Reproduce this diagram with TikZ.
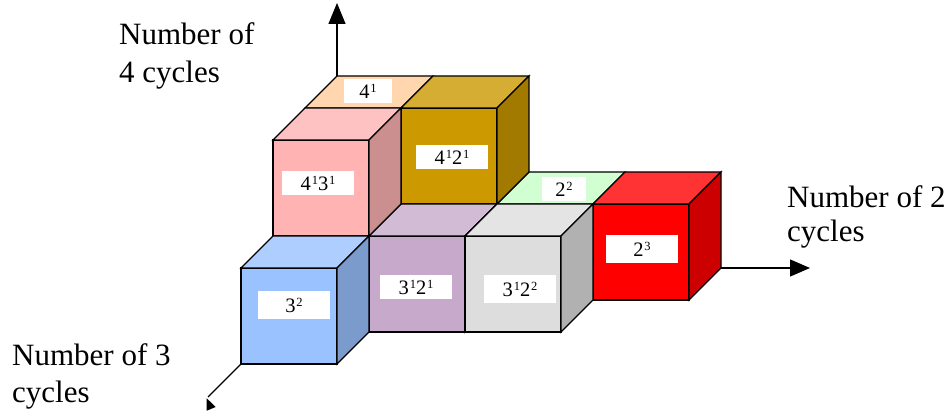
\documentclass[tikz,border=0pt]{standalone}
\usepackage{fontspec}
\setmainfont{Liberation Serif}
\usetikzlibrary{arrows.meta}
\definecolor{peachc}{RGB}{255,204,153}
\definecolor{pinkc}{RGB}{255,179,179}
\definecolor{goldc}{RGB}{204,153,0}
\definecolor{greenc}{RGB}{198,255,198}
\definecolor{redc}{RGB}{255,0,0}
\definecolor{bluec}{RGB}{153,194,255}
\definecolor{purplec}{RGB}{199,170,203}
\definecolor{grayc}{RGB}{221,221,221}
\newcommand\spx[1]{\kern0.8pt{\fontsize{12.5}{12.5}\selectfont\raisebox{6pt}{#1}}}
\newcommand\drawcube[4]{%
  \begin{scope}[shift={(#1,#2,#3)}]
    \filldraw[facestyle, fill=#4] (0,0,1) -- (1,0,1) -- (1,1,1) -- (0,1,1) -- cycle;
    \filldraw[facestyle, fill=#4!80!white] (0,1,1) -- (1,1,1) -- (1,1,0) -- (0,1,0) -- cycle;
    \filldraw[facestyle, fill=#4!80!black] (1,0,1) -- (1,0,0) -- (1,1,0) -- (1,1,1) -- cycle;
  \end{scope}}
\newcommand\drawtile[4]{%
  \begin{scope}[shift={(#1,#2,#3)}]
    \filldraw[facestyle, fill=#4!80!white] (0,1,1) -- (1,1,1) -- (1,1,0) -- (0,1,0) -- cycle;
  \end{scope}}
\begin{document}
\begin{tikzpicture}[
  facestyle/.style={draw=black, line width=1.4pt},
  axis/.style={draw=black, line width=1.3pt},
  lab/.style={fill=white, inner sep=0pt, minimum width=72pt, minimum height=24pt,
              font=\fontsize{20.5}{20.5}\selectfont},
  axlab/.style={anchor=base west, inner sep=0pt, font=\fontsize{31}{31}\selectfont}
]
\useasboundingbox (0,0) rectangle (951pt,-414pt);
\fill[white] (0,0) rectangle (951pt,-414pt);

% 3D cube assembly
\begin{scope}[shift={(337pt,-268pt)}, x={(96pt,0pt)}, y={(0pt,96pt)}, z={(-32pt,-32pt)}]
  \coordinate (o4) at (0,2,0);
  \coordinate (o2) at (4,0,0);
  \coordinate (o3) at (0,0,3);
  \drawtile{2}{0}{0}{greenc}
  \drawcube{3}{0}{0}{redc}
  \drawtile{0}{1}{0}{peachc}
  \drawcube{1}{1}{0}{goldc}
  \drawcube{1}{0}{1}{purplec}
  \drawcube{2}{0}{1}{grayc}
  \drawcube{0}{1}{1}{pinkc}
  \drawcube{0}{0}{2}{bluec}
\end{scope}

\begin{scope}[x=1pt, y=-1pt]
  % axes
  \coordinate (t4) at (337,3);
  \coordinate (t2) at (810,268);
  \coordinate (t3) at (208,397);
  \draw[axis, -{Triangle[length=21pt,width=17pt]}] (o4) -- (t4);
  \draw[axis, -{Triangle[length=20pt,width=17pt]}] (o2) -- (t2);
  \draw[axis] (o3) -- (t3);
  \fill[black] (206.7,398.3) -- (215.7,407) -- (206.7,410.7) -- cycle;

  % cube labels
  \node[lab, minimum width=48pt] (l4) at (368,91) {4\spx{1}};
  \node[lab] (l43) at (318,183) {4\spx{1}3\spx{1}};
  \node[lab] (l42) at (452,157) {4\spx{1}2\spx{1}};
  \node[lab, minimum height=28pt] (l33) at (294,305) {3\spx{2}};
  \node[lab] (l32) at (416,287) {3\spx{1}2\spx{1}};
  \node[lab, minimum height=28pt] (l322) at (520,289) {3\spx{1}2\spx{2}};
  \node[lab, minimum width=44pt] (l22) at (564,189) {2\spx{2}};
  \node[lab, minimum height=28pt] (l23) at (642,249) {2\spx{3}};

  % axis labels
  \node[axlab] (a4a) at (119,45) {Number of};
  \node[axlab] (a4b) at (119,83) {4 cycles};
  \node[axlab] (a2a) at (787,208) {Number of 2};
  \node[axlab] (a2b) at (787,242) {cycles};
  \node[axlab] (a3a) at (12,365) {Number of 3};
  \node[axlab] (a3b) at (12,402) {cycles};
\end{scope}
\end{tikzpicture}
\end{document}
